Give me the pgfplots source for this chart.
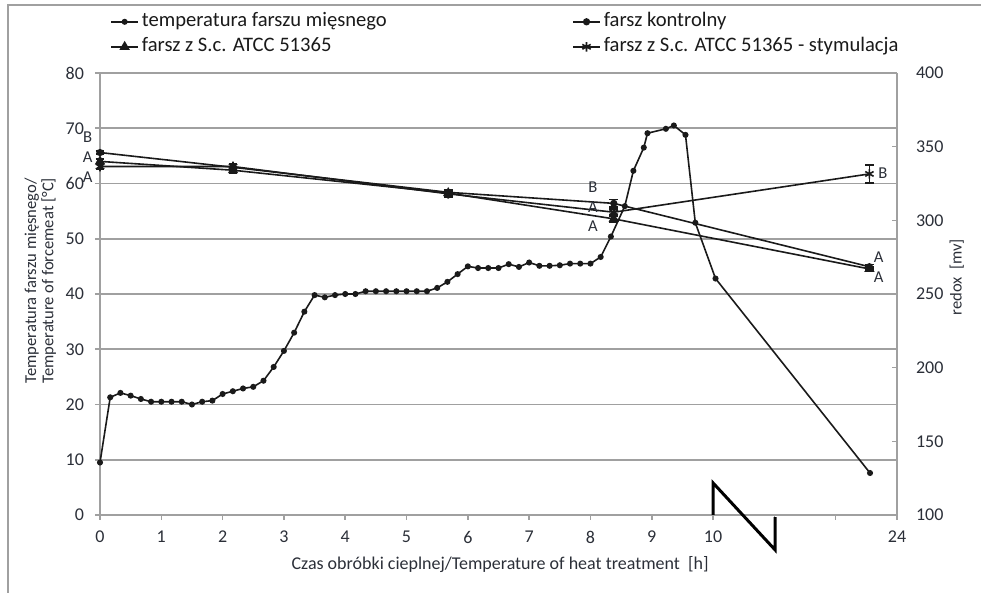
\documentclass[border=0pt]{standalone}
\usepackage{fontspec}
\setmainfont{Carlito}
\usepackage{pgfplots}
\usepackage{pgfplotstable}
\pgfplotsset{compat=1.18}

\definecolor{gridc}{HTML}{A0A0A0}
\definecolor{txt}{HTML}{2B2F38}
\definecolor{ln}{HTML}{1A1A1A}

% temperature of the forcemeat (left axis)
\pgfplotstableread{
x T
0 9.5
0.1667 21.3
0.3333 22.1
0.5 21.6
0.6667 21.0
0.8333 20.5
1 20.5
1.1667 20.5
1.3333 20.5
1.5 20.0
1.6667 20.5
1.8333 20.7
2 21.9
2.1667 22.4
2.3333 22.9
2.5 23.2
2.6667 24.3
2.8333 26.8
3 29.7
3.1667 33.0
3.3333 36.8
3.5 39.8
3.6667 39.4
3.8333 39.8
4 40.0
4.1667 40.0
4.3333 40.5
4.5 40.5
4.6667 40.5
4.8333 40.5
5 40.5
5.1667 40.5
5.3333 40.5
5.5 41.1
5.6667 42.2
5.8333 43.6
6 45.0
6.1667 44.7
6.3333 44.7
6.5 44.7
6.6667 45.4
6.8333 44.9
7 45.7
7.1667 45.1
7.3333 45.1
7.5 45.2
7.6667 45.5
7.8333 45.5
8 45.5
8.1667 46.7
8.3333 50.4
8.56 55.9
8.70 62.3
8.87 66.5
8.93 69.1
9.23 69.9
9.36 70.5
9.55 68.8
9.71 52.9
10.04 42.8
12.56 7.6
}\temptab

% redox (right axis), x = position on the broken time axis
\pgfplotstableread{
x r e
0 346 1.0
2.17 336 2.0
5.68 319 2.0
8.38 311.5 2.5
12.55 268.5 1.5
}\kontrol
\pgfplotstableread{
x r e
0 340 1.5
2.17 334 2.0
5.68 318.5 2.0
8.38 301 2.0
12.55 267 1.5
}\sctab
\pgfplotstableread{
x r e
0 336.5 1.5
2.17 336.5 2.0
5.68 318 2.0
8.38 305.5 2.0
12.55 331.5 6.0
}\stymtab

\pgfplotsset{
  base/.style={
    scale only axis, width=398.5pt, height=221pt,
    at={(50pt,39pt)}, anchor=south west,
    xmin=0, xmax=13, clip=false,
    tick label style={font=\fontsize{9}{10}\selectfont, text=txt},
    /pgf/number format/assume math mode=true,
    axis line style={gridc, line width=0.8pt},
    major tick length=2.5pt,
    every tick/.style={gridc, line width=0.8pt},
    legend cell align=left,
    legend style={draw=none, fill=none, anchor=north west,
      font=\fontsize{10.3}{11}\selectfont, text=ln, row sep=0pt,
      inner sep=0pt, nodes={inner sep=1.5pt, text height=7pt, text depth=2.5pt}},
    legend image code/.code={\draw[mark repeat=2,mark phase=2,##1]
      plot coordinates {(0pt,0pt) (6.75pt,0pt) (13.5pt,0pt)};},
  },
  ser/.style={ln, line width=0.8pt},
  ebar/.style={/pgfplots/error bars/y dir=both, /pgfplots/error bars/y explicit,
    /pgfplots/error bars/error bar style={ln, line width=0.8pt},
    /pgfplots/error bars/error mark options={rotate=90, mark size=2.2pt, line width=0.8pt}},
}

\begin{document}
\begin{tikzpicture}
\path[use as bounding box] (0pt,0pt) rectangle (490.5pt,296.5pt);
\draw[gridc, line width=0.6pt] (4pt,0pt) -- (4pt,294pt) -- (490.5pt,294pt);

\begin{axis}[base,
  axis x line*=bottom, axis y line*=left,
  ymin=0, ymax=80, ytick={0,10,...,80},
  xtick={0,1,...,13}, xticklabels={0,1,2,3,4,5,6,7,8,9,10,{},{},24},
  tick align=outside,
  ymajorgrids, grid style={gridc, line width=0.8pt},
  yticklabel style={xshift=-2pt},
  xticklabel style={yshift=-2pt},
  xlabel={Czas obróbki cieplnej/Temperature of heat treatment\ \ [h]},
  xlabel style={at={(axis description cs:0.502,-0.113)}, anchor=center,
    font=\fontsize{9}{10}\selectfont, text=txt},
  ylabel={Temperatura farszu mięsnego/\\Temperature of forcemeat [°C]},
  ylabel style={at={(axis description cs:-0.075,0.53)}, anchor=center,
    align=center, font=\fontsize{8.3}{8.6}\selectfont, text=txt},
  legend style={at={(0.0125,1.145)}},
]
\addplot[ser, mark=*, mark size=1.1pt] table[x=x, y=T] {\temptab};
\addlegendentry{temperatura farszu mięsnego}
\addlegendimage{ser, mark=triangle*, mark size=2.2pt}
\addlegendentry{farsz z S.c. ATCC 51365}

% axis break
\draw[black, line width=1.5pt] (axis cs:10,0) -- (axis cs:10,5.8)
  -- (axis cs:11.01,-6.3) -- (axis cs:11.01,-0.4);
\end{axis}

\begin{axis}[base,
  axis y line*=right, hide x axis,
  ymin=100, ymax=400, ytick={100,150,...,400},
  tick align=inside,
  yticklabel style={xshift=6pt},
  ylabel={redox\ \ [mv]},
  ylabel style={at={(axis description cs:1.075,0.538)}, anchor=center,
    font=\fontsize{8.3}{9}\selectfont, text=txt},
  legend style={at={(0.592,1.145)}},
]
\addplot[ser, mark=*, mark size=1.4pt, ebar] table[x=x, y=r, y error=e] {\kontrol};
\addlegendentry{farsz kontrolny}
\addplot[ser, mark=triangle*, mark size=2.2pt, forget plot, ebar] table[x=x, y=r, y error=e] {\sctab};
\addplot[ser, mark=asterisk, mark size=2.4pt, ebar] table[x=x, y=r, y error=e] {\stymtab};
\addlegendentry{farsz z S.c. ATCC 51365 - stymulacja}

\begin{scope}[font=\fontsize{8.3}{9}\selectfont, text=txt]
\node at (axis cs:-0.2,356.5) {B};
\node at (axis cs:-0.2,343) {A};
\node at (axis cs:-0.2,329.4) {A};
\node at (axis cs:8.04,322.6) {B};
\node at (axis cs:8.04,309) {A};
\node at (axis cs:8.04,296) {A};
\node at (axis cs:12.77,332) {B};
\node at (axis cs:12.7,275) {A};
\node at (axis cs:12.7,261.5) {A};
\end{scope}
\end{axis}
\end{tikzpicture}
\end{document}
